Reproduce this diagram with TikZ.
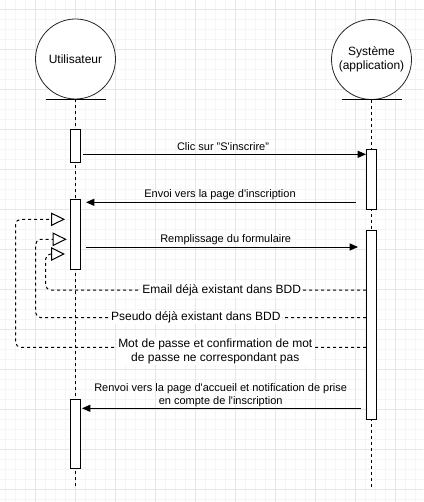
\documentclass[tikz,border=0pt]{standalone}
\usepackage{fontspec}
\setmainfont{Liberation Sans}
\usetikzlibrary{arrows.meta,calc}
\definecolor{gridmajor}{HTML}{E6E6E6}
\definecolor{gridminor}{HTML}{F5F5F5}
\newcommand{\apos}{\textquotesingle}
\begin{document}
\begin{tikzpicture}[x=1pt,y=-1pt,line width=1pt,
  actor/.style={circle,draw=black!85,line width=0.8pt,fill=white,minimum size=80pt,inner sep=0pt,align=center,font=\fontsize{12}{14}\selectfont},
  lifeline/.style={draw=black,dash pattern=on 3pt off 3pt},
  actbox/.style={draw=black,fill=white,minimum width=10pt,inner sep=0pt,anchor=north},
  msg/.style={draw=black,-{Triangle[length=8.3pt,width=7pt]}},
  reply/.style={draw=black,dash pattern=on 3pt off 3pt,rounded corners=5pt,-{Triangle[open,length=14pt,width=13.5pt,fill=white]}},
  msglabel/.style={font=\fontsize{11}{13.3}\selectfont,inner sep=1pt,align=center},
  replylabel/.style={font=\fontsize{12}{14}\selectfont,fill=white,inner sep=1pt,align=center}
]
\useasboundingbox (0,0) rectangle (423,502);
% background grid
\foreach \gx in {5,15,...,425} \draw[gridminor,line width=0.8pt] (\gx,0) -- (\gx,502);
\foreach \gy in {9,19,...,509} \draw[gridminor,line width=0.8pt] (0,\gy) -- (423,\gy);
\foreach \gx in {35,75,...,425} \draw[gridmajor,line width=0.8pt] (\gx,0) -- (\gx,502);
\foreach \gy in {9,49,...,509} \draw[gridmajor,line width=0.8pt] (0,\gy) -- (423,\gy);

% actors
\node[actor] (user) at (75.5,59) {Utilisateur};
\node[actor] (sys) at (371.5,59.5) {Système\\(application)};
\draw ([xshift=-30pt]user.south) -- ([xshift=30pt]user.south);
\draw ([xshift=-30pt]sys.south) -- ([xshift=30pt]sys.south);

% lifelines
\coordinate (userend) at (75.5,488);
\coordinate (sysend) at (371.5,488);
\draw[lifeline] (user.south) -- (userend);
\draw[lifeline] (sys.south) -- (sysend);

% activation bars
\node[actbox,minimum height=33pt] (u1) at (75.5,129) {};
\node[actbox,minimum height=70pt] (u2) at (75.5,199.3) {};
\node[actbox,minimum height=69pt] (u3) at (75.5,399.3) {};
\node[actbox,minimum height=60pt] (s1) at (371.5,149.3) {};
\node[actbox,minimum height=189.3pt] (s2) at (371.5,230) {};

% synchronous messages
\draw[msg] ([xshift=2.3pt]u1.east |- 0,154.3) -- (s1.west |- 0,154.3);
\node[msglabel] (l1) at (223,146.7) {Clic sur "S\apos inscrire"};

\draw[msg] ([xshift=-10.5pt]s1.west |- 0,202.3) -- ([xshift=5pt]u2.east |- 0,202.3);
\node[msglabel] (l2) at (220,195) {Envoi vers la page d\apos inscription};

\draw[msg] ([xshift=5pt]u2.east |- 0,247) -- ([xshift=-8pt]s2.west |- 0,247);
\node[msglabel] (l3) at (225.7,239.3) {Remplissage du formulaire};

% error replies looping back to the user
\coordinate (c1) at (45.7,290);
\coordinate (c2) at (35.7,317.7);
\coordinate (c3) at (15.7,347.3);
\draw[reply] (s2.west |- c1) -- (c1) -- (c1 |- 0,254) -- ([xshift=-5pt]u2.west |- 0,254);
\draw[reply] (s2.west |- c2) -- (c2) -- (c2 |- 0,239.3) -- ([xshift=-3.3pt]u2.west |- 0,239.3);
\draw[reply] (s2.west |- c3) -- (c3) -- (c3 |- 0,219.3) -- ([xshift=-5pt]u2.west |- 0,219.3);
\node[replylabel] (e1) at (221.7,290) {Email déjà existant dans BDD};
\node[replylabel] (e2) at (195.8,317.7) {Pseudo déjà existant dans BDD};
\node[replylabel] (e3) at (215.3,351) {Mot de passe et confirmation de mot\\de passe ne correspondant pas};

% final response
\draw[msg] ([xshift=-5pt]s2.west |- 0,408.3) -- ([xshift=1pt]u3.east |- 0,408.3);
\node[msglabel] (l4) at (220.7,395) {Renvoi vers la page d\apos accueil et notification de prise\\en compte de l\apos inscription};
\end{tikzpicture}
\end{document}
